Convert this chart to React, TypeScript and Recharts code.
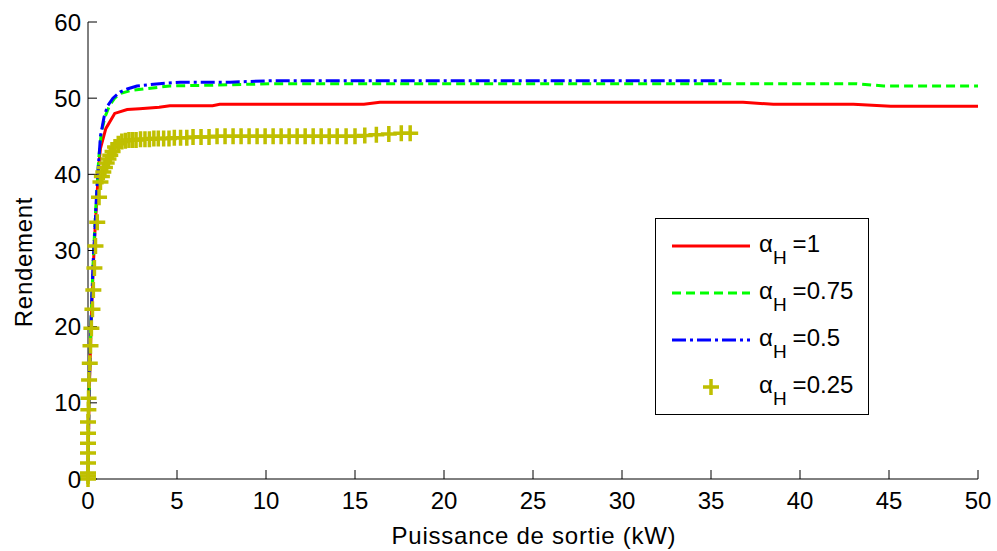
import React from "react";
import {
  ComposedChart,
  Line,
  Scatter,
  XAxis,
  YAxis,
  Legend,
} from "recharts";

// alpha_H = 1
const redX = [0, 0.05, 0.1, 0.2, 0.3, 0.4, 0.5, 0.6, 0.7, 1.0, 1.5, 2.2, 2.9, 4.0, 4.6, 7.0, 7.4, 15.5, 16.4, 36.8, 38.5, 43.0, 45.1, 50];
const redY = [0, 9, 14, 22, 28, 33, 37, 41, 43.4, 46, 48.0, 48.5, 48.6, 48.8, 49.0, 49.0, 49.2, 49.2, 49.45, 49.45, 49.2, 49.2, 48.95, 48.95];

// alpha_H = 0.75
const greenX = [0, 0.05, 0.1, 0.2, 0.3, 0.4, 0.5, 0.6, 0.75, 0.95, 1.2, 1.5, 1.8, 2.4, 3.1, 4.6, 7.0, 10.4, 20, 30, 43.2, 44.7, 50];
const greenY = [0, 10, 15, 23, 29, 34, 38, 42, 45.5, 47.5, 49, 50, 50.6, 51.0, 51.2, 51.6, 51.7, 51.9, 51.9, 51.9, 51.9, 51.6, 51.6];

// alpha_H = 0.5
const blueX = [0, 0.05, 0.1, 0.2, 0.3, 0.4, 0.45, 0.55, 0.7, 0.9, 1.1, 1.4, 1.8, 2.2, 2.75, 4.0, 5.2, 8.0, 10.4, 20, 30, 35.7];
const blueY = [0, 10, 15, 23, 29, 33, 36, 40, 45, 47.5, 49, 50, 50.8, 51.2, 51.6, 51.9, 52.1, 52.1, 52.3, 52.3, 52.3, 52.3];

// alpha_H = 0.25 (markers only)
const yellowX = [
  0, 0, 0, 0, 0, 0, 0, 0, 0.02, 0.03, 0.06, 0.1, 0.14, 0.19, 0.25, 0.3, 0.36, 0.42, 0.52,
  0.62, 0.7, 0.78, 0.86, 0.95, 1.05, 1.15, 1.25, 1.38, 1.52, 1.7, 1.9, 2.1, 2.3, 2.5, 2.7,
  2.95, 3.2, 3.45, 3.7, 3.95, 4.25, 4.55, 4.85, 5.2, 5.55, 5.9, 6.35, 6.8, 7.25, 7.7, 8.15,
  8.6, 9.05, 9.5, 9.95, 10.4, 10.85, 11.3, 11.75, 12.2, 12.65, 13.1, 13.55, 14.0, 14.5,
  15.0, 15.55, 16.2, 16.9, 17.6, 18.1,
];
const yellowY = [
  0, 0.4, 0.8, 2.1, 3.4, 4.7, 6.0, 7.5, 9.1, 10.6, 13.0, 15.2, 17.5, 19.8, 22.3, 24.8, 27.7, 30.6, 33.7,
  37.0, 39.0, 39.7, 40.3, 40.9, 41.5, 42.0, 42.5, 43.0, 43.6, 44.0, 44.3, 44.4, 44.5, 44.5, 44.5,
  44.6, 44.6, 44.6, 44.7, 44.7, 44.7, 44.7, 44.8, 44.8, 44.8, 44.9, 44.9, 44.9, 45.0, 45.0, 45.0,
  45.0, 45.0, 45.0, 45.0, 45.0, 45.0, 45.0, 45.0, 45.0, 45.0, 45.0, 45.0, 45.0, 45.0,
  45.0, 45.1, 45.2, 45.3, 45.4, 45.4,
];

const xTicks = [0, 5, 10, 15, 20, 25, 30, 35, 40, 45, 50];
const yTicks = [0, 10, 20, 30, 40, 50, 60];
const legendLabels = ["=1", "=0.75", "=0.5", "=0.25"];

const toPoints = (xs: number[], ys: number[]) => xs.map((x, i) => ({ x, y: ys[i] }));

const redData = toPoints(redX, redY);
const greenData = toPoints(greenX, greenY);
const blueData = toPoints(blueX, blueY);
const yellowData = toPoints(yellowX, yellowY);

const FONT = "Liberation Sans, Arial, Helvetica, sans-serif";
const YELLOW = "#bfbf00";

const PlusMarker = (props: any) => {
  const { cx, cy } = props;
  if (cx == null || cy == null) return null;
  return (
    <path
      d={`M${cx - 8},${cy}H${cx + 8}M${cx},${cy - 8}V${cy + 8}`}
      stroke={YELLOW}
      strokeWidth={3.5}
      fill="none"
    />
  );
};

const LegendBox = () => {
  const rows = [
    { color: "#ff0000", dash: undefined, marker: false },
    { color: "#00ff00", dash: "9 5", marker: false },
    { color: "#0000ff", dash: "14 4 3 4", marker: false },
    { color: YELLOW, dash: undefined, marker: true },
  ];
  return (
    <svg width={215} height={198} style={{ display: "block" }}>
      <rect x={0.5} y={0.5} width={213} height={196} fill="#fff" stroke="#000" strokeWidth={1} />
      {rows.map((r, i) => {
        const cy = 28 + i * 47;
        return (
          <g key={i}>
            {r.marker ? (
              <path
                d={`M${56 - 8},${cy}H${56 + 8}M56,${cy - 8}V${cy + 8}`}
                stroke={r.color}
                strokeWidth={3.5}
              />
            ) : (
              <line x1={17} x2={95} y1={cy} y2={cy} stroke={r.color} strokeWidth={3} strokeDasharray={r.dash} />
            )}
            <text x={104} y={cy + 6} fontFamily={FONT} fontSize={24} fill="#000">
              α
              <tspan fontSize={19} dy={12}>H</tspan>
              <tspan dy={-12} dx={6}>{legendLabels[i]}</tspan>
            </text>
          </g>
        );
      })}
    </svg>
  );
};

export default function App() {
  return (
    <div style={{ position: "absolute", left: 0, top: 0 }}>
      <ComposedChart
        width={997}
        height={551}
        margin={{ top: 22, right: 19, bottom: 0, left: 0 }}
        style={{ fontFamily: FONT }}
      >
        <XAxis
          type="number"
          dataKey="x"
          domain={[0, 50]}
          ticks={xTicks}
          height={72}
          tickSize={-9}
          tickMargin={22}
          stroke="#000"
          tick={{ fill: "#000", fontSize: 24 }}
          label={{
            content: () => (
              <text
                x={534}
                y={544}
                textAnchor="middle"
                fontFamily={FONT}
                fontSize={24}
                letterSpacing={0.75}
                fill="#000"
              >
                Puissance de sortie (kW)
              </text>
            ),
          }}
        />
        <YAxis
          type="number"
          dataKey="y"
          domain={[0, 60]}
          ticks={yTicks}
          width={88}
          tickSize={-9}
          tickMargin={16}
          stroke="#000"
          tick={{ fill: "#000", fontSize: 24 }}
          label={{
            content: () => (
              <text
                x={32}
                y={262}
                textAnchor="middle"
                transform="rotate(-90 32 262)"
                fontFamily={FONT}
                fontSize={24}
                letterSpacing={0.7}
                fill="#000"
              >
                Rendement
              </text>
            ),
          }}
        />
        <Legend
          layout="horizontal"
          verticalAlign="middle"
          align="center"
          wrapperStyle={{ position: "absolute", left: 655, top: 218, width: 215, height: 198 }}
          content={() => <LegendBox />}
        />
        <Line
          data={redData}
          dataKey="y"
          type="linear"
          stroke="#ff0000"
          strokeWidth={3}
          dot={false}
          isAnimationActive={false}
          name="αH=1"
        />
        <Line
          data={greenData}
          dataKey="y"
          type="linear"
          stroke="#00ff00"
          strokeWidth={3}
          strokeDasharray="9 5"
          dot={false}
          isAnimationActive={false}
          name="αH=0.75"
        />
        <Line
          data={blueData}
          dataKey="y"
          type="linear"
          stroke="#0000ff"
          strokeWidth={3}
          strokeDasharray="14 4 3 4"
          dot={false}
          isAnimationActive={false}
          name="αH=0.5"
        />
        <Scatter
          data={yellowData}
          dataKey="y"
          fill={YELLOW}
          shape={<PlusMarker />}
          isAnimationActive={false}
          name="αH=0.25"
        />
      </ComposedChart>
    </div>
  );
}
